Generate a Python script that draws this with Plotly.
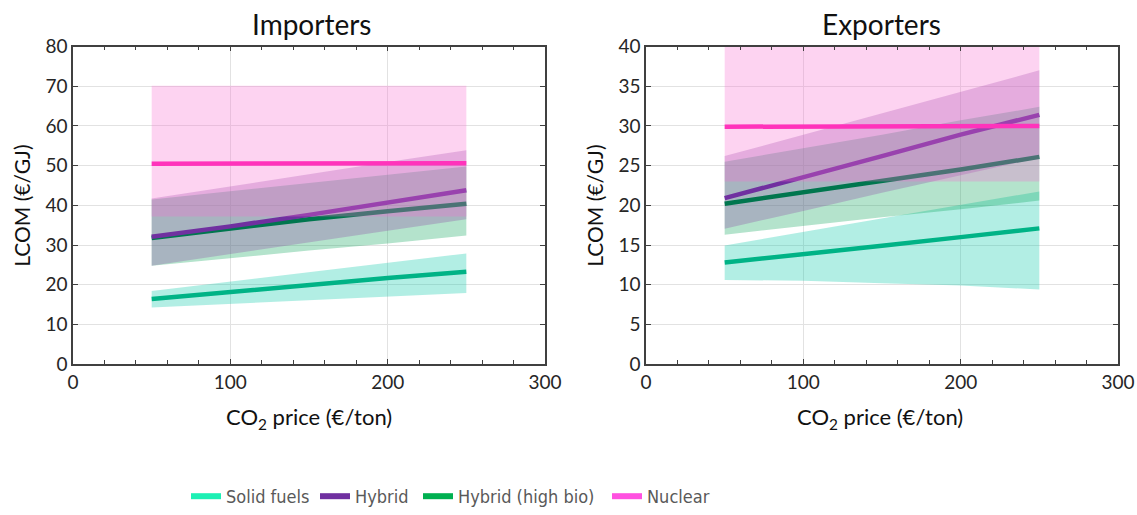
import plotly.graph_objects as go

# ---------------- data ----------------
co2 = [50, 100, 150, 200, 250]

# Importers
imp_solid = [16.4, 18.2, 20.0, 21.7, 23.3]
imp_solid_lo = [14.3, 15.2, 16.1, 17.0, 17.9]
imp_solid_hi = [18.4, 20.8, 23.1, 25.5, 27.9]
imp_hyb = [32.1, 34.7, 37.6, 40.8, 43.8]
imp_hyb_lo = [24.8, 27.7, 30.7, 33.6, 36.5]
imp_hyb_hi = [41.7, 44.8, 47.8, 50.9, 53.9]
imp_bio = [31.8, 34.2, 36.5, 38.5, 40.4]
imp_bio_lo = [24.8, 26.7, 28.6, 30.4, 32.4]
imp_bio_hi = [41.5, 43.6, 45.7, 47.7, 49.8]
imp_nuc = [50.5, 50.5, 50.5, 50.6, 50.6]
imp_nuc_lo = [37.2, 37.2, 37.2, 37.2, 37.2]
imp_nuc_hi = [70.1, 70.1, 70.1, 70.1, 70.1]

# Exporters
exp_solid = [12.8, 13.8, 14.9, 16.0, 17.1]
exp_solid_lo = [10.6, 10.5, 10.2, 9.9, 9.4]
exp_solid_hi = [14.95, 16.65, 18.35, 20.05, 21.75]
exp_hyb = [20.9, 23.5, 26.2, 28.9, 31.4]
exp_hyb_lo = [17.05, 19.3, 21.6, 23.8, 26.0]
exp_hyb_hi = [26.2, 28.9, 31.6, 34.3, 37.0]
exp_bio = [20.2, 21.6, 23.0, 24.5, 26.1]
exp_bio_lo = [16.3, 17.4, 18.5, 19.5, 20.6]
exp_bio_hi = [25.5, 27.2, 28.9, 30.7, 32.4]
exp_nuc = [29.9, 29.9, 29.9, 30.0, 30.0]
exp_nuc_lo = [23.0, 23.0, 23.0, 23.0, 23.0]
exp_nuc_hi = [45.0, 45.0, 45.0, 45.0, 45.0]

series_names = ["Solid fuels", "Hybrid", "Hybrid (high bio)", "Nuclear"]
legend_colors = ["#1df0b4", "#7030a0", "#00b050", "#ff50e0"]
line_colors = ["#00b386", "#7030a0", "#00764e", "#ff33bb"]
fill_colors = ["rgba(0,198,165,0.3)", "rgba(8,162,85,0.3)",
               "rgba(141,74,164,0.3)", "rgba(250,110,210,0.3)"]

FONT = "Lato"
LEGFONT = "DejaVu Sans Condensed, Lato"

W, H = 1137, 515
VS = 1 / 0.985  # vertical correction observed in rendering


def px(x):
    return x / W


def py(y):
    return 1 - (y * VS) / H


fig = go.Figure()


def band(x, lo, hi, color, xa, ya):
    fig.add_trace(go.Scatter(
        x=x + x[::-1], y=hi + lo[::-1], fill="toself", fillcolor=color,
        mode="lines", line=dict(width=0), hoverinfo="skip",
        showlegend=False, xaxis=xa, yaxis=ya))


def line(x, y, color, xa, ya):
    fig.add_trace(go.Scatter(
        x=x, y=y, mode="lines", line=dict(color=color, width=4.5),
        showlegend=False, xaxis=xa, yaxis=ya))


panels = [
    ("x", "y", (imp_solid, imp_solid_lo, imp_solid_hi), (imp_bio, imp_bio_lo, imp_bio_hi),
     (imp_hyb, imp_hyb_lo, imp_hyb_hi), (imp_nuc, imp_nuc_lo, imp_nuc_hi)),
    ("x2", "y2", (exp_solid, exp_solid_lo, exp_solid_hi), (exp_bio, exp_bio_lo, exp_bio_hi),
     (exp_hyb, exp_hyb_lo, exp_hyb_hi), (exp_nuc, exp_nuc_lo, exp_nuc_hi)),
]

for xa, ya, s, b, h, n in panels:
    band(co2, s[1], s[2], fill_colors[0], xa, ya)
    band(co2, b[1], b[2], fill_colors[1], xa, ya)
    band(co2, h[1], h[2], fill_colors[2], xa, ya)
    line(co2, s[0], line_colors[0], xa, ya)
    line(co2, b[0], line_colors[2], xa, ya)
    line(co2, h[0], line_colors[1], xa, ya)
    band(co2, n[1], n[2], fill_colors[3], xa, ya)
    line(co2, n[0], line_colors[3], xa, ya)

# legend-only entries, each in its own legend box
legend_ids = ["legend", "legend2", "legend3", "legend4"]
legend_x = [186, 315, 418, 607]
for name, col, lid in zip(series_names, legend_colors, legend_ids):
    fig.add_trace(go.Scatter(x=[None], y=[None], mode="lines", name=name, legend=lid,
                             line=dict(color=col, width=6), xaxis="x", yaxis="y"))

axis_common = dict(
    showline=True, linecolor="#404040", linewidth=1.5, mirror="allticks",
    ticks="inside", ticklen=5, tickcolor="#404040",
    showgrid=True, gridcolor="#e2e2e2", gridwidth=1, zeroline=False,
    tickfont=dict(family=FONT, size=19, color="#262626"), automargin=False,
)
minor = dict(dtick=20, ticks="inside", ticklen=4, tickcolor="#404040", showgrid=False)

ydom = [py(368), py(47)]
leg_common = dict(orientation="h", xanchor="left", y=py(502), yanchor="middle",
                  font=dict(family=LEGFONT, size=18, color="#595959"), itemwidth=30,
                  bgcolor="rgba(0,0,0,0)", borderwidth=0)
layout_legends = {lid: dict(x=px(lx), **leg_common) for lid, lx in zip(legend_ids, legend_x)}

fig.update_layout(
    width=W, height=H,
    margin=dict(l=0, r=0, t=0, b=0),
    paper_bgcolor="white", plot_bgcolor="white",
    xaxis=dict(domain=[px(73), px(545)], range=[0, 300], dtick=100, minor=minor,
               anchor="y", **axis_common),
    yaxis=dict(domain=ydom, range=[0, 80], dtick=10, anchor="x", **axis_common),
    xaxis2=dict(domain=[px(646), px(1118)], range=[0, 300], dtick=100, minor=minor,
                anchor="y2", **axis_common),
    yaxis2=dict(domain=ydom, range=[0, 40], dtick=5, anchor="x2", **axis_common),
    showlegend=True,
    **layout_legends,
)

annots = [
    dict(text="Importers", x=311, y=24, size=28),
    dict(text="Exporters", x=882, y=24, size=28),
    dict(text="CO<sub>2</sub> price (€/ton)", x=309, y=422, size=22),
    dict(text="CO<sub>2</sub> price (€/ton)", x=880, y=422, size=22),
]
for a in annots:
    fig.add_annotation(text=a["text"], x=px(a["x"]), y=py(a["y"]), xref="paper", yref="paper",
                       xanchor="center", yanchor="middle", showarrow=False,
                       font=dict(family=FONT, size=a["size"], color="#111111"))
for xp in [22, 595]:
    fig.add_annotation(text="LCOM (€/GJ)", x=px(xp), y=py(208), xref="paper", yref="paper",
                       xanchor="center", yanchor="middle", showarrow=False, textangle=-90,
                       font=dict(family=FONT, size=21, color="#111111"))

fig.write_html(
    "out.html",
    config={"displayModeBar": False},
    post_script="document.body.style.margin='0';document.body.style.padding='0';"
                "document.body.style.overflow='hidden';",
)
